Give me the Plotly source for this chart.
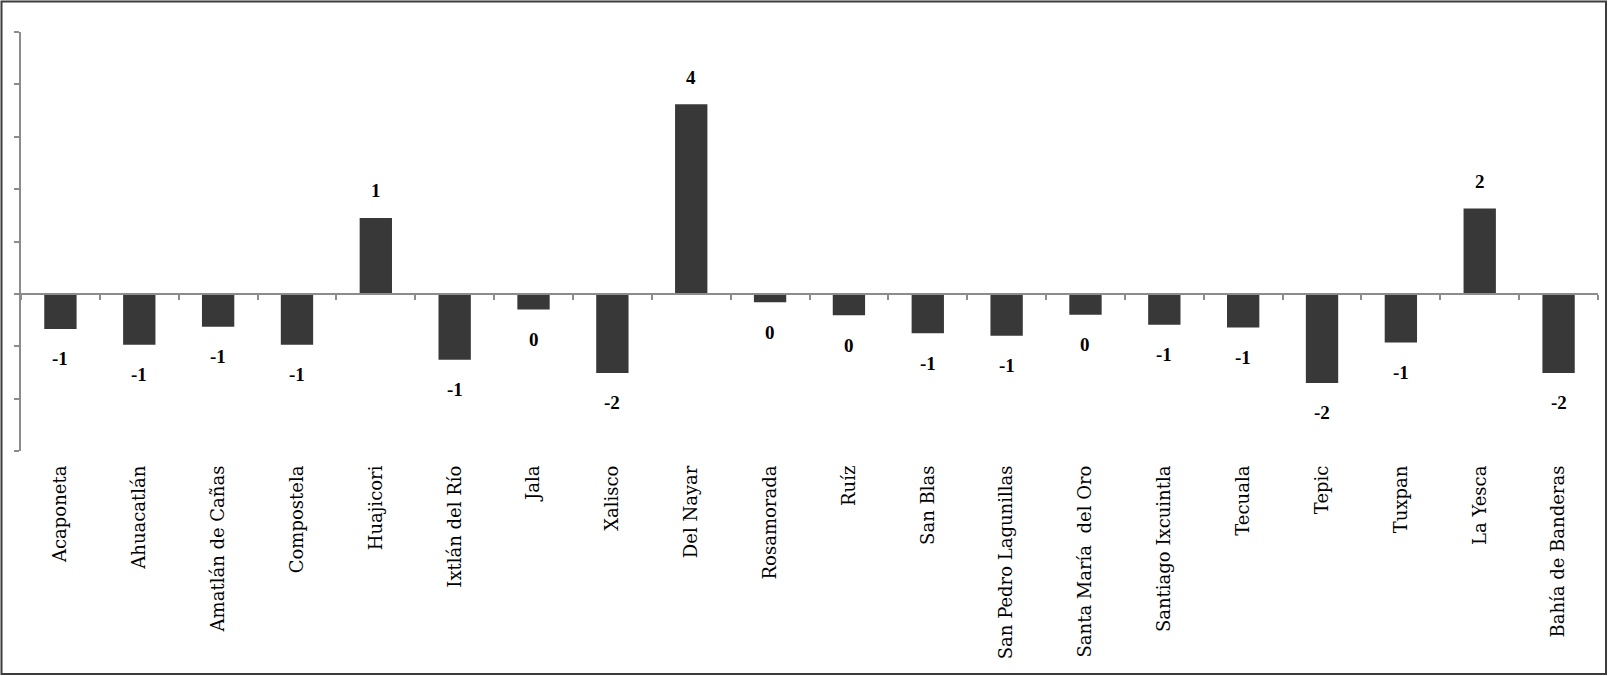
import plotly.graph_objects as go

municipios = [
    "Acaponeta", "Ahuacatlán", "Amatlán de Cañas", "Compostela", "Huajicori",
    "Ixtlán del Río", "Jala", "Xalisco", "Del Nayar", "Rosamorada",
    "Ruíz", "San Blas", "San Pedro Lagunillas", "Santa María  del Oro",
    "Santiago Ixcuintla", "Tecuala", "Tepic", "Tuxpan", "La Yesca",
    "Bahía de Banderas",
]
valores = [
    -0.67, -0.97, -0.63, -0.97, 1.45,
    -1.26, -0.30, -1.51, 3.62, -0.16,
    -0.41, -0.75, -0.80, -0.40,
    -0.59, -0.64, -1.70, -0.93, 1.63,
    -1.51,
]
etiquetas = [str(int(round(v))) for v in valores]

y_rango = [-3, 5]

BAR = "#383838"
AX = "#8c8c8c"

fig = go.Figure()
fig.add_trace(go.Bar(
    x=municipios, y=valores, marker=dict(color=BAR, line=dict(width=0)),
    width=0.41, showlegend=False, hoverinfo="x+y",
))
# invisible helper so the zero-position axis is rendered
fig.add_trace(go.Scatter(x=[], y=[], xaxis="x2", yaxis="y", showlegend=False))

for m, v, t in zip(municipios, valores, etiquetas):
    fig.add_annotation(
        x=m, y=v, text="<b>%s</b>" % t, showarrow=False,
        yanchor="middle", xanchor="center",
        yshift=27 if v > 0 else -30,
        font=dict(family="Liberation Serif", size=19, color="#000000"),
    )

W, H = 1609, 676
L, R, T, B = 21, 11, 32, 225
pw, ph = W - L - R, H - T - B

def fx(px):
    return (px - L) / pw

def fy(py):
    return (H - B - py) / ph

zero_frac = (0 - y_rango[0]) / (y_rango[1] - y_rango[0])

fig.update_layout(
    width=W, height=H,
    margin=dict(l=L, r=R, t=T, b=B, pad=0, autoexpand=False),
    paper_bgcolor="white", plot_bgcolor="white",
    bargap=0.59,
    xaxis=dict(
        type="category", categoryorder="array", categoryarray=municipios,
        range=[-0.5, len(municipios) - 0.5], automargin=False,
        showline=False, ticks="", showgrid=False, zeroline=False,
        tickangle=-90, ticklabelstandoff=10,
        tickfont=dict(family="DejaVu Serif", size=18, color="#000000"),
    ),
    xaxis2=dict(
        overlaying="x", anchor="free", position=zero_frac, automargin=False,
        range=[-0.5, len(municipios) - 0.5],
        tick0=-0.5, dtick=1, ticks="outside", ticklen=5, tickwidth=2,
        tickcolor=AX, showticklabels=False, showgrid=False, zeroline=False,
        showline=True, linecolor=AX, linewidth=2, side="bottom",
    ),
    yaxis=dict(
        range=y_rango, dtick=1, ticks="outside", ticklen=5, tickwidth=2,
        tickcolor=AX, showticklabels=False, showgrid=False, zeroline=False,
        showline=True, linecolor=AX, linewidth=2, automargin=False,
    ),
    shapes=[dict(
        type="rect", xref="paper", yref="paper",
        x0=fx(1.5), x1=fx(1606), y0=fy(674), y1=fy(1.5),
        line=dict(color="#3c3c3c", width=2), fillcolor="rgba(0,0,0,0)",
        layer="above",
    )],
)

fig.write_html(
    "out.html",
    config={"displayModeBar": False},
    post_script="document.body.style.margin='0';document.body.style.overflow='hidden';",
)
